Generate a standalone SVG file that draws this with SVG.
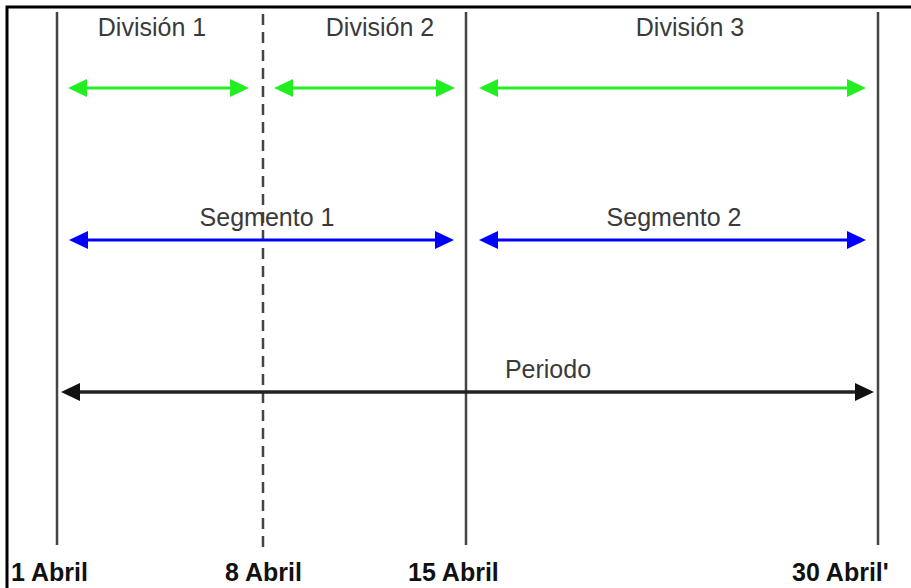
<svg xmlns="http://www.w3.org/2000/svg" width="911" height="588" viewBox="0 0 911 588">
<style>
.vl{stroke:#444;stroke-width:2.5;fill:none}
.dash{stroke-dasharray:11 7}
.lbl{font-family:"Liberation Sans",Arial,sans-serif;font-size:25px;fill:#3a3a3a;text-anchor:middle}
.date{font-family:"Liberation Sans",Arial,sans-serif;font-size:25px;font-weight:bold;fill:#111}
.g{stroke:#22ee22;stroke-width:3;fill:none;marker-start:url(#mg);marker-end:url(#mg)}
.b{stroke:#0000ff;stroke-width:3;fill:none;marker-start:url(#mb);marker-end:url(#mb)}
.k{stroke:#222;stroke-width:3.5;fill:none;marker-start:url(#mk);marker-end:url(#mk)}
</style>
<defs>
<marker id="mg" markerUnits="userSpaceOnUse" markerWidth="22" markerHeight="20" viewBox="0 -10 22 20" refX="1" refY="0" orient="auto-start-reverse"><path d="M0,-9 L19,0 L0,9 z" fill="#22ee22"/></marker>
<marker id="mb" markerUnits="userSpaceOnUse" markerWidth="22" markerHeight="20" viewBox="0 -10 22 20" refX="1" refY="0" orient="auto-start-reverse"><path d="M0,-9 L19,0 L0,9 z" fill="#0000ff"/></marker>
<marker id="mk" markerUnits="userSpaceOnUse" markerWidth="22" markerHeight="20" viewBox="0 -10 22 20" refX="1" refY="0" orient="auto-start-reverse"><path d="M0,-9 L19,0 L0,9 z" fill="#111"/></marker>
</defs>
<rect width="911" height="588" fill="#fff"/>
<path d="M7,600 V7 H920" stroke="#000" stroke-width="3" fill="none"/>
<g id="d1"><line class="vl" x1="57" y1="12" x2="57" y2="545"/><text class="date" x="11" y="581">1 Abril</text></g>
<g id="d8"><line class="vl dash" x1="263" y1="14" x2="263" y2="550"/><text class="date" x="225" y="581">8 Abril</text></g>
<g id="d15"><line class="vl" x1="466" y1="12" x2="466" y2="545"/><text class="date" x="408" y="581">15 Abril</text></g>
<g id="d30"><line class="vl" x1="878" y1="12" x2="878" y2="545"/><text class="date" x="792" y="581">30 Abril'</text></g>
<g id="connectors">
<line class="g" x1="86" y1="88" x2="231" y2="88"/>
<line class="g" x1="292" y1="88" x2="437" y2="88"/>
<line class="g" x1="497" y1="88" x2="848" y2="88"/>
<line class="b" x1="87" y1="240" x2="436" y2="240"/>
<line class="b" x1="497" y1="240" x2="848" y2="240"/>
<line class="k" x1="79" y1="392" x2="856" y2="392"/>
</g>
<g id="div1"><text class="lbl" x="152" y="36">División 1</text></g>
<g id="div2"><text class="lbl" x="380" y="36">División 2</text></g>
<g id="div3"><text class="lbl" x="690" y="36">División 3</text></g>
<g id="seg1"><text class="lbl" x="267" y="226">Segmento 1</text></g>
<g id="seg2"><text class="lbl" x="674" y="226">Segmento 2</text></g>
<g id="per"><text class="lbl" x="548" y="378">Periodo</text></g>
</svg>
